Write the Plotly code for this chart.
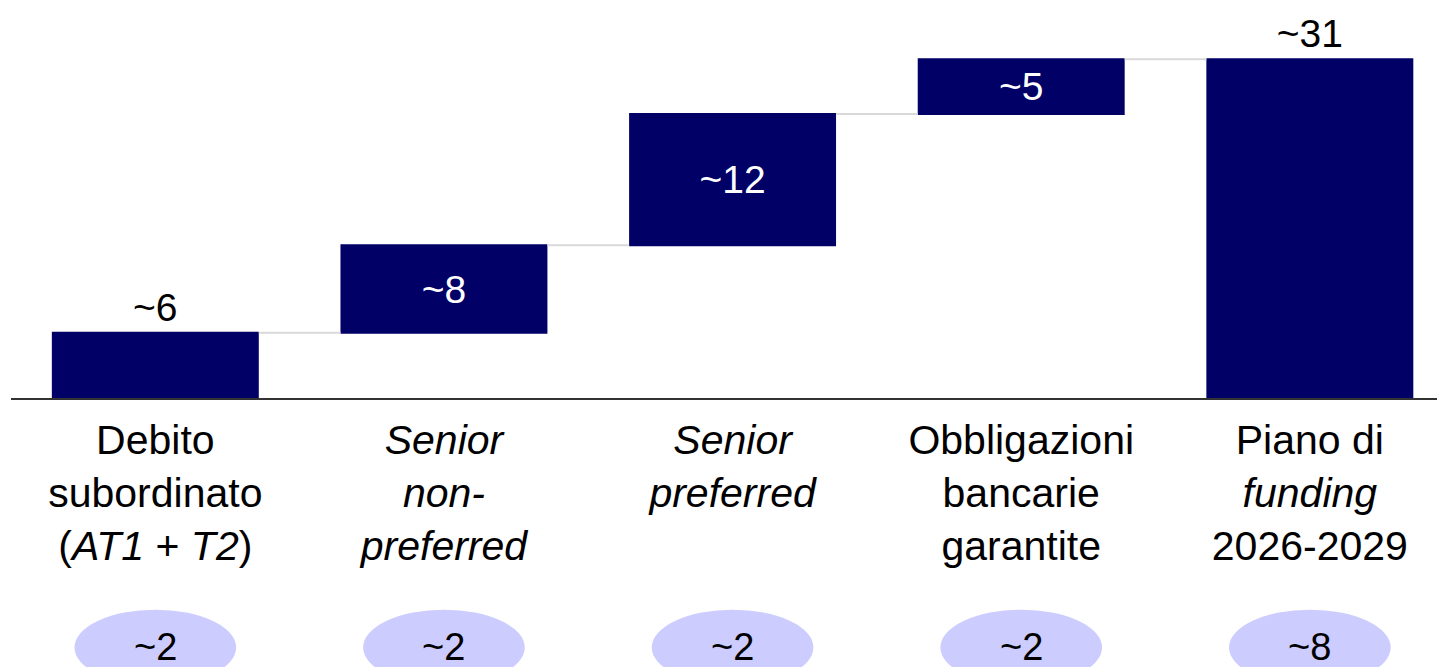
import plotly.graph_objects as go

# dati (miliardi di euro, valori approssimati)
categorie = [
    "Debito<br>subordinato<br>(<i>AT1</i> + <i>T2</i>)",
    "<i>Senior</i><br><i>non-</i><br><i>preferred</i>",
    "<i>Senior</i><br><i>preferred</i>",
    "Obbligazioni<br>bancarie<br>garantite",
    "Piano di<br><i>funding</i><br>2026-2029",
]
valori = [6, 8, 12, 5, 31]
misure = ["relative", "relative", "relative", "relative", "total"]
valori_annui = [2, 2, 2, 2, 8]

BLU = "#000066"
FONT = "Liberation Sans, Arial, sans-serif"

y_min, y_max = -25.27, 35.69
fig = go.Figure()
fig.add_trace(go.Waterfall(
    x=categorie, y=valori, measure=misure,
    text=["~" + str(v) for v in valori],
    textposition=["outside", "inside", "inside", "inside", "outside"],
    insidetextanchor="middle", constraintext="none",
    insidetextfont=dict(color="white", size=39, family=FONT),
    outsidetextfont=dict(color="black", size=39, family=FONT),
    increasing=dict(marker=dict(color=BLU, line=dict(width=0))),
    totals=dict(marker=dict(color=BLU, line=dict(width=0))),
    connector=dict(line=dict(color="#d9d9d9", width=2)),
    cliponaxis=False, hoverinfo="skip",
))

# ellissi con i valori annui
for i, v in enumerate(valori_annui):
    fig.add_shape(type="circle", xref="x", yref="y",
                  x0=i - 0.28, x1=i + 0.28, y0=-19.3, y1=-26.2,
                  fillcolor="#ccccff", line_width=0, layer="below")
    fig.add_annotation(x=i, y=-22.75, text="~" + str(v), showarrow=False,
                       font=dict(size=38, color="black", family=FONT))

fig.update_layout(
    width=1445, height=667, template=None,
    paper_bgcolor="white", plot_bgcolor="white",
    margin=dict(l=3, r=0, t=0, b=0),
    showlegend=False, waterfallgap=0.283,
    font=dict(family=FONT, color="black"),
)
fig.update_xaxes(type="category", range=[-0.5, 4.496], anchor="free",
                 position=-y_min / (y_max - y_min), automargin=False,
                 showline=True, linecolor="#333333", linewidth=2,
                 showgrid=False, ticks="", ticklabelstandoff=5,
                 tickfont=dict(size=41, color="black", family=FONT))
fig.update_yaxes(range=[y_min, y_max], visible=False)

fig.write_html("out.html")
